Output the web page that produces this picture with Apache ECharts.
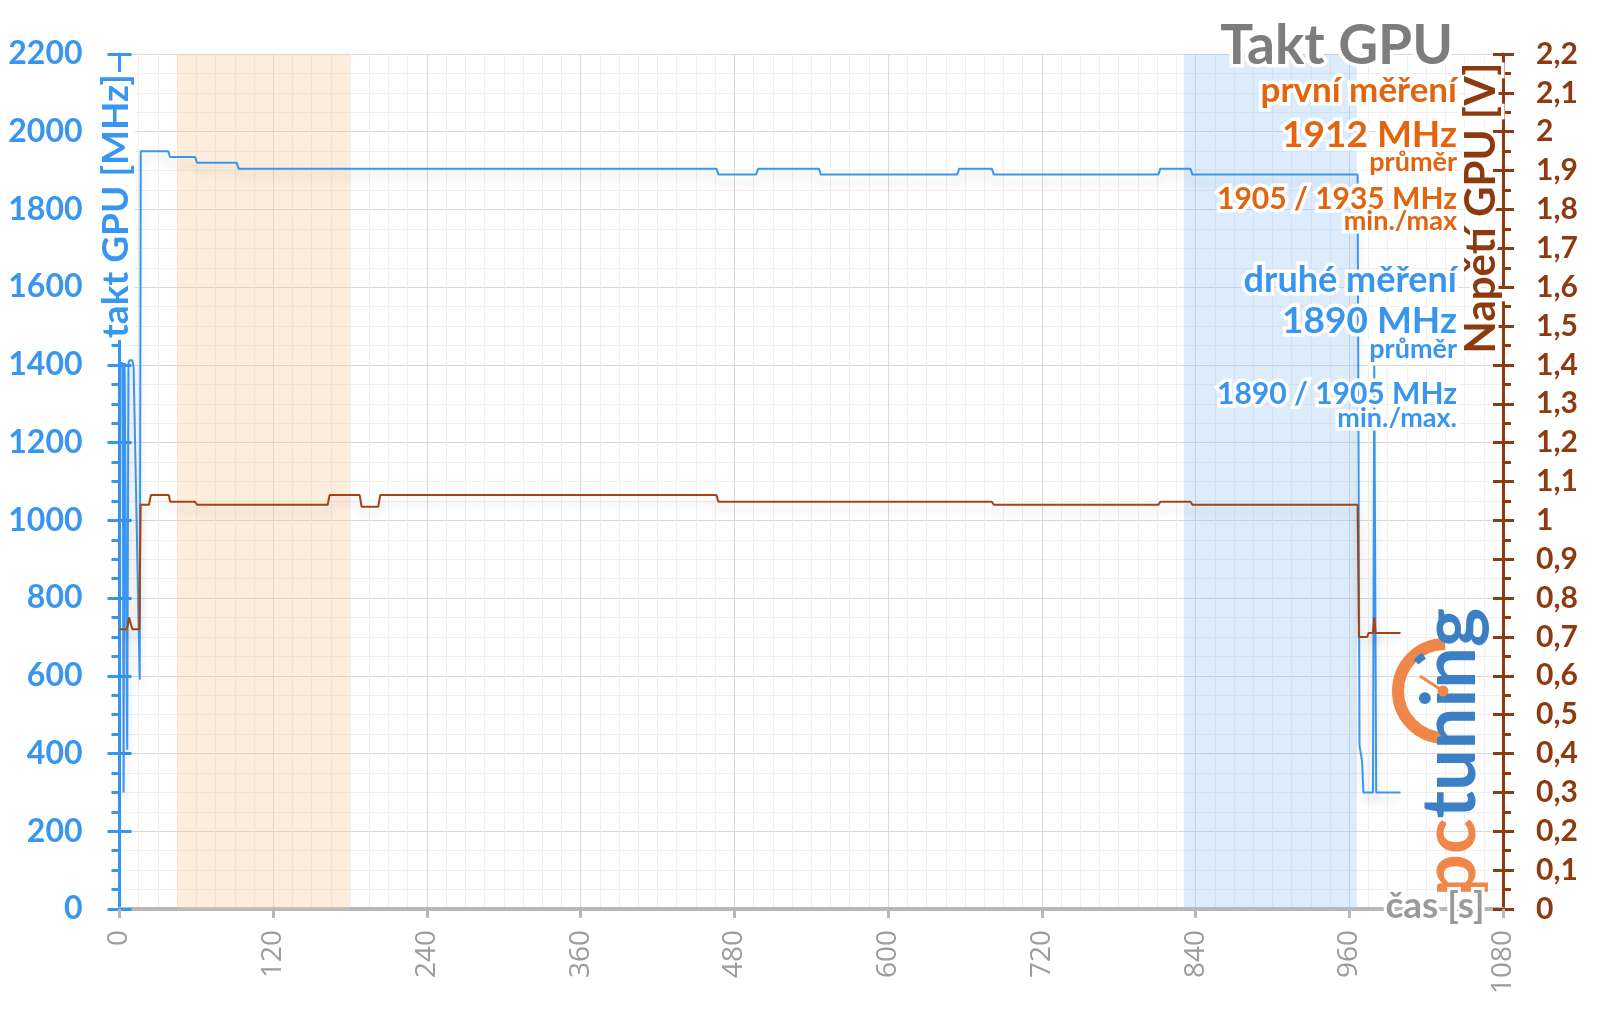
<!DOCTYPE html>
<html><head><meta charset="utf-8">
<script src="https://cdn.jsdelivr.net/npm/echarts@6/dist/echarts.min.js"></script>
<style>html,body{margin:0;padding:0;background:#fff}#c{width:1600px;height:1009px}</style>
</head><body><div id="c"></div>
<script>
// ---- data ----
const clockTimes = [0,0.7,2.5,3.2,4,5,6,7,8,10,11,15.8,16.6,38,39.5,59,60.5,91.5,93,466,467.5,497,498.5,546,547.5,654,655.5,681,682.5,811,812.5,836,837.5,966.5,968,970,971,978.5,979.5,981,1000];
const clockMHz   = [300,1405,1405,300,1405,1405,410,1405,1412,1412,1395,590,1950,1950,1935,1935,1920,1920,1905,1905,1890,1890,1905,1905,1890,1890,1905,1905,1890,1890,1905,1905,1890,1890,420,380,300,300,1400,300,300];
const voltTimes  = [0,5.5,6.5,7.5,8.5,10,15.5,16.5,23,24.5,38.5,39.5,59,60.5,162.5,164,187.5,189,202,203.5,466,467.5,681,682.5,811,812.5,836,837.5,966.5,967.5,974,975,978.5,979.5,980.5,1000];
const voltV      = [0.72,0.72,0.73,0.75,0.745,0.72,0.72,1.04,1.04,1.065,1.065,1.048,1.048,1.04,1.04,1.065,1.065,1.035,1.035,1.065,1.065,1.048,1.048,1.04,1.04,1.048,1.048,1.04,1.04,0.70,0.70,0.71,0.71,0.75,0.71,0.71];
const orangeBand = [45, 180];
const blueBand   = [831, 966];
const xRange = [0, 1080], xStep = 120;
const mhzRange = [0, 2200], mhzStep = 200;
const voltRange = [0, 2.2], voltStep = 0.1;
const titleText = 'Takt GPU';
const firstLines  = ['první měření', '1912 MHz', 'průměr', '1905 / 1935 MHz', 'min./max'];
const secondLines = ['druhé měření', '1890 MHz', 'průměr', '1890 / 1905 MHz', 'min./max.'];

// ---- styling ----
const BLUE = '#3896f0', BROWN = '#8e3a10', ORANGE = '#e2640f', GRAY = '#9a9a9a';
const FONT = 'Lato';
const chart = echarts.init(document.getElementById('c'), null, {renderer: 'canvas'});

function fmtV(v){ return (Math.round(v*10)/10).toString().replace('.', ','); }
function fmtPlain(v){ return String(v); }

const halo = {stroke:'#fff', lineWidth:7};
function txt(t, x, y, size, color, extra){
  return Object.assign({type:'text', x:x, y:y, z:100, silent:true,
    style: Object.assign({text:t, fill:color, font:'bold '+size+'px '+FONT, align:'right', verticalAlign:'middle'}, halo)}, extra||{});
}

const RX = 1457;
const graphics = [
  txt(titleText, 1453, 46, 55, '#7d7d7d'),
  txt(firstLines[0], RX, 91, 35, ORANGE),
  txt(firstLines[1], RX, 135, 37, ORANGE),
  txt(firstLines[2], RX, 162, 27, ORANGE),
  txt(firstLines[3], RX, 199, 30, ORANGE),
  txt(firstLines[4], RX, 221, 27, ORANGE),
  txt(secondLines[0], RX, 280, 36, BLUE),
  txt(secondLines[1], RX, 321, 37, BLUE),
  txt(secondLines[2], RX, 349, 27, BLUE),
  txt(secondLines[3], RX, 394, 30, BLUE),
  txt(secondLines[4], RX, 418, 27, BLUE),
  // axis names
  {type:'text', x:116, y:206, rotation:Math.PI/2, z:100, silent:true,
   style:{text:'takt GPU [MHz]', fill:BLUE, font:'bold 37px '+FONT, align:'center', verticalAlign:'middle', backgroundColor:'#fff', padding:[0,2,0,2]}},
  {type:'text', x:1481, y:208, rotation:Math.PI/2, z:100, silent:true,
   style:Object.assign({text:'Napětí GPU [V]', fill:BROWN, font:'bold 42px '+FONT, align:'center', verticalAlign:'middle'}, halo)},
  {type:'text', x:1435, y:906, z:100, silent:true,
   style:Object.assign({text:'čas [s]', fill:GRAY, font:'bold 37px '+FONT, align:'center', verticalAlign:'middle'}, {stroke:'#fff', lineWidth:6})},
  // logo
  {type:'arc', z:90, silent:true, shape:{cx:1445, cy:691, r:47, startAngle:Math.PI/2, endAngle:Math.PI*1.5, clockwise:true},
   style:{stroke:'#f0874a', lineWidth:12, fill:null}},
  {type:'arc', z:91, silent:true, shape:{cx:1445, cy:691, r:41, startAngle:Math.PI*1.25, endAngle:Math.PI*1.33, clockwise:true},
   style:{stroke:'#3d7fc4', lineWidth:7, fill:null}},
  {type:'line', z:91, silent:true, shape:{x1:1420, y1:676, x2:1443, y2:691}, style:{stroke:'#f0874a', lineWidth:3}},
  {type:'circle', z:91, silent:true, shape:{cx:1443, cy:691, r:5.5}, style:{fill:'#f0874a'}},
  {type:'text', x:1451, y:752, rotation:Math.PI/2, z:90, silent:true,
   style:{text:'{a|pc}{b|tuning}', align:'center', verticalAlign:'middle',
     rich:{a:{fill:'#f0874a', font:'bold 74px '+FONT}, b:{fill:'#3d7fc4', font:'bold 74px '+FONT}}}}
];

const lineShadow = {shadowColor:'rgba(0,0,0,0.15)', shadowBlur:9, shadowOffsetY:8};

const option = {
  animation:false,
  backgroundColor:'#fff',
  grid:{left:119.5, right:97, top:54, bottom:100, containLabel:false, outerBoundsMode:'none'},
  xAxis:{type:'value', min:xRange[0], max:xRange[1], interval:xStep,
    axisLine:{show:true, lineStyle:{color:'#b8b8b8', width:4}},
    axisTick:{show:true, length:9, lineStyle:{color:'#b8b8b8', width:3}},
    axisLabel:{rotate:90, fontSize:28, fontFamily:'Open Sans', color:'#9c9c9c', margin:21, formatter:fmtPlain, showMinLabel:true, showMaxLabel:true},
    splitLine:{show:true, lineStyle:{color:'#d9d9d9', width:1}},
    minorTick:{show:false, splitNumber:8},
    minorSplitLine:{show:true, lineStyle:{color:'#efefef', width:1}}
  },
  yAxis:[
    {type:'value', position:'left', min:mhzRange[0], max:mhzRange[1], interval:mhzStep,
     axisLine:{show:true, lineStyle:{color:BLUE, width:3}},
     axisTick:{show:true, length:12, lineStyle:{color:BLUE, width:3}},
     minorTick:{show:true, splitNumber:4, length:8, lineStyle:{color:BLUE, width:3}},
     axisLabel:{fontSize:32, fontWeight:'bold', fontFamily:FONT, color:BLUE, margin:37, formatter:fmtPlain, showMinLabel:true, showMaxLabel:true},
     splitLine:{show:true, lineStyle:{color:'#d9d9d9', width:1}},
     minorSplitLine:{show:true, lineStyle:{color:'#efefef', width:1}}
    },
    {type:'value', position:'right', min:voltRange[0], max:voltRange[1], interval:voltStep,
     axisLine:{show:true, lineStyle:{color:BROWN, width:3}},
     axisTick:{show:true, length:11, lineStyle:{color:BROWN, width:3}},
     minorTick:{show:true, splitNumber:2, length:8, lineStyle:{color:BROWN, width:3}},
     axisLabel:{fontSize:30, fontWeight:'bold', fontFamily:FONT, color:BROWN, margin:33, formatter:fmtV, showMinLabel:true, showMaxLabel:true},
     splitLine:{show:false}
    },
    {type:'value', position:'left', min:mhzRange[0], max:mhzRange[1], interval:mhzStep,
     axisLine:{show:false}, axisLabel:{show:false}, splitLine:{show:false},
     axisTick:{show:true, inside:true, length:12, lineStyle:{color:BLUE, width:3}}
    },
    {type:'value', position:'right', min:voltRange[0], max:voltRange[1], interval:voltStep,
     axisLine:{show:false}, axisLabel:{show:false}, splitLine:{show:false},
     axisTick:{show:true, inside:true, length:10, lineStyle:{color:BROWN, width:3}}
    }
  ],
  series:[
    {type:'line', name:'bands', data:[], z:1, silent:true, xAxisIndex:0, yAxisIndex:0,
     markArea:{silent:true, data:[
       [{xAxis:orangeBand[0], itemStyle:{color:'rgba(250,200,150,0.32)'}}, {xAxis:orangeBand[1]}],
       [{xAxis:blueBand[0], itemStyle:{color:'rgba(150,195,245,0.32)'}}, {xAxis:blueBand[1]}]
     ]}},
    {type:'line', name:'takt GPU', yAxisIndex:0, z:3, showSymbol:false, symbol:'none',
     data: clockTimes.map((t,i)=>[t, clockMHz[i]]),
     lineStyle:Object.assign({color:BLUE, width:2}, lineShadow)},
    {type:'line', name:'Napětí GPU', yAxisIndex:1, z:3, showSymbol:false, symbol:'none',
     data: voltTimes.map((t,i)=>[t, voltV[i]]),
     lineStyle:Object.assign({color:'#a4430f', width:2}, lineShadow)}
  ],
  graphic:{elements:graphics}
};
chart.setOption(option);
</script></body></html>
